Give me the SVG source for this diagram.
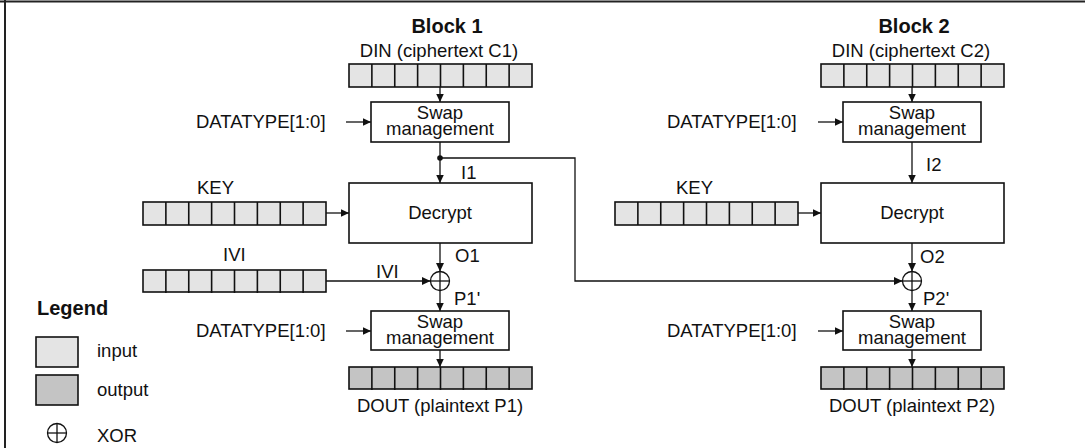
<svg xmlns="http://www.w3.org/2000/svg" width="1085" height="448" viewBox="0 0 1085 448">
<style>
text{font-family:"Liberation Sans",Arial,sans-serif;font-size:18.5px;fill:#111}
.b{font-weight:bold;font-size:20px}
.m{text-anchor:middle}
.in{fill:#e4e4e4;stroke:#111;stroke-width:1.6}
.out{fill:#c4c4c4;stroke:#111;stroke-width:1.6}
.box{fill:#fff;stroke:#111;stroke-width:1.6}
.c{fill:none;stroke:#111;stroke-width:1.3}
.x{fill:#fff;stroke:#111;stroke-width:1.3}
</style>
<defs>
<marker id="ah" markerWidth="9" markerHeight="8" refX="8.5" refY="4" orient="auto" markerUnits="userSpaceOnUse">
<path d="M0,0 L8.5,4 L0,8 z" fill="#111"/>
</marker>
<g id="cells">
<line x1="22.875" y1="0" x2="22.875" y2="23"/><line x1="45.75" y1="0" x2="45.75" y2="23"/><line x1="68.625" y1="0" x2="68.625" y2="23"/><line x1="91.5" y1="0" x2="91.5" y2="23"/><line x1="114.375" y1="0" x2="114.375" y2="23"/><line x1="137.25" y1="0" x2="137.25" y2="23"/><line x1="160.125" y1="0" x2="160.125" y2="23"/>
</g>
<g id="xor">
<circle cx="0" cy="0" r="9.5" class="x"/>
<line x1="-9.5" y1="0" x2="9.5" y2="0" class="c"/><line x1="0" y1="-9.5" x2="0" y2="9.5" class="c"/>
</g>
</defs>
<rect width="1085" height="448" fill="#fff"/>
<g id="frame" stroke="#222" stroke-width="2">
<line x1="0" y1="1.5" x2="1085" y2="1.5"/>
<line x1="5" y1="0" x2="5" y2="448"/>
</g>

<g id="connectors" class="c">
<line x1="440" y1="87" x2="440" y2="102" marker-end="url(#ah)"/>
<line x1="346" y1="122" x2="371" y2="122" marker-end="url(#ah)"/>
<line x1="440" y1="142" x2="440" y2="183" marker-end="url(#ah)"/>
<line x1="325" y1="213" x2="349" y2="213" marker-end="url(#ah)"/>
<line x1="440" y1="243" x2="440" y2="271.5" marker-end="url(#ah)"/>
<line x1="325" y1="281" x2="430.5" y2="281" marker-end="url(#ah)"/>
<line x1="440" y1="290.5" x2="440" y2="311" marker-end="url(#ah)"/>
<line x1="346" y1="331" x2="371" y2="331" marker-end="url(#ah)"/>
<line x1="440" y1="350" x2="440" y2="367" marker-end="url(#ah)"/>
<polyline points="440,158 575,158 575,281 902.5,281" marker-end="url(#ah)"/>
<circle cx="440" cy="158" r="2.8" fill="#111" stroke="none"/>
<line x1="912" y1="87" x2="912" y2="102" marker-end="url(#ah)"/>
<line x1="818" y1="122" x2="843" y2="122" marker-end="url(#ah)"/>
<line x1="912" y1="142" x2="912" y2="183" marker-end="url(#ah)"/>
<line x1="797" y1="213" x2="821" y2="213" marker-end="url(#ah)"/>
<line x1="912" y1="243" x2="912" y2="271.5" marker-end="url(#ah)"/>
<line x1="912" y1="290.5" x2="912" y2="311" marker-end="url(#ah)"/>
<line x1="818" y1="331" x2="843" y2="331" marker-end="url(#ah)"/>
<line x1="912" y1="350" x2="912" y2="367" marker-end="url(#ah)"/>
</g>

<g id="block1-title"><text x="447" y="33" class="b m">Block 1</text></g>
<g id="din1">
<text x="439" y="57" class="m">DIN (ciphertext C1)</text>
<rect x="349" y="64" width="183" height="23" class="in"/>
<use href="#cells" x="349" y="64" stroke="#111" stroke-width="1.6"/>
</g>
<g id="swap1a">
<rect x="371" y="102" width="138" height="40" class="box"/>
<text class="m"><tspan x="440" y="119">Swap</tspan><tspan x="440" y="135">management</tspan></text>
</g>
<g id="dt1a"><text x="196" y="128">DATATYPE[1:0]</text></g>
<g id="i1"><text x="461" y="179">I1</text></g>
<g id="key1">
<text x="197" y="194">KEY</text>
<rect x="143" y="202" width="183" height="23" class="in"/>
<use href="#cells" x="143" y="202" stroke="#111" stroke-width="1.6"/>
</g>
<g id="decrypt1">
<rect x="349" y="183" width="183" height="60" class="box"/>
<text x="440" y="219" class="m">Decrypt</text>
</g>
<g id="o1"><text x="455" y="262">O1</text></g>
<g id="ivi">
<text x="223" y="261">IVI</text>
<rect x="143" y="270" width="183" height="22" class="in"/>
<use href="#cells" x="143" y="270" stroke="#111" stroke-width="1.6"/>
<text x="376" y="278">IVI</text>
</g>
<g id="xor1"><use href="#xor" x="440" y="281"/></g>
<g id="p1"><text x="454" y="305">P1'</text></g>
<g id="swap1b">
<rect x="371" y="311" width="138" height="39" class="box"/>
<text class="m"><tspan x="440" y="328">Swap</tspan><tspan x="440" y="344">management</tspan></text>
</g>
<g id="dt1b"><text x="196" y="337">DATATYPE[1:0]</text></g>
<g id="dout1">
<rect x="349" y="367" width="183" height="22" class="out"/>
<use href="#cells" x="349" y="367" stroke="#111" stroke-width="1.6"/>
<text x="440" y="412" class="m">DOUT (plaintext P1)</text>
</g>

<g id="block2-title"><text x="914" y="33" class="b m">Block 2</text></g>
<g id="din2">
<text x="911" y="57" class="m">DIN (ciphertext C2)</text>
<rect x="821" y="64" width="183" height="23" class="in"/>
<use href="#cells" x="821" y="64" stroke="#111" stroke-width="1.6"/>
</g>
<g id="swap2a">
<rect x="843" y="102" width="138" height="40" class="box"/>
<text class="m"><tspan x="912" y="119">Swap</tspan><tspan x="912" y="135">management</tspan></text>
</g>
<g id="dt2a"><text x="667" y="128">DATATYPE[1:0]</text></g>
<g id="i2"><text x="926" y="171">I2</text></g>
<g id="key2">
<text x="676" y="194">KEY</text>
<rect x="615" y="202" width="183" height="23" class="in"/>
<use href="#cells" x="615" y="202" stroke="#111" stroke-width="1.6"/>
</g>
<g id="decrypt2">
<rect x="821" y="183" width="183" height="60" class="box"/>
<text x="912" y="219" class="m">Decrypt</text>
</g>
<g id="o2"><text x="920" y="263">O2</text></g>
<g id="xor2"><use href="#xor" x="912" y="281"/></g>
<g id="p2"><text x="923" y="305">P2'</text></g>
<g id="swap2b">
<rect x="843" y="311" width="138" height="39" class="box"/>
<text class="m"><tspan x="912" y="328">Swap</tspan><tspan x="912" y="344">management</tspan></text>
</g>
<g id="dt2b"><text x="667" y="337">DATATYPE[1:0]</text></g>
<g id="dout2">
<rect x="821" y="367" width="183" height="22" class="out"/>
<use href="#cells" x="821" y="367" stroke="#111" stroke-width="1.6"/>
<text x="912" y="412" class="m">DOUT (plaintext P2)</text>
</g>

<g id="legend">
<text x="37" y="315" class="b">Legend</text>
<rect x="36" y="337" width="42" height="30" class="in"/>
<text x="97" y="357">input</text>
<rect x="36" y="375" width="42" height="30" class="out"/>
<text x="97" y="396">output</text>
<use href="#xor" x="57" y="433"/>
<text x="97" y="442">XOR</text>
</g>
</svg>
